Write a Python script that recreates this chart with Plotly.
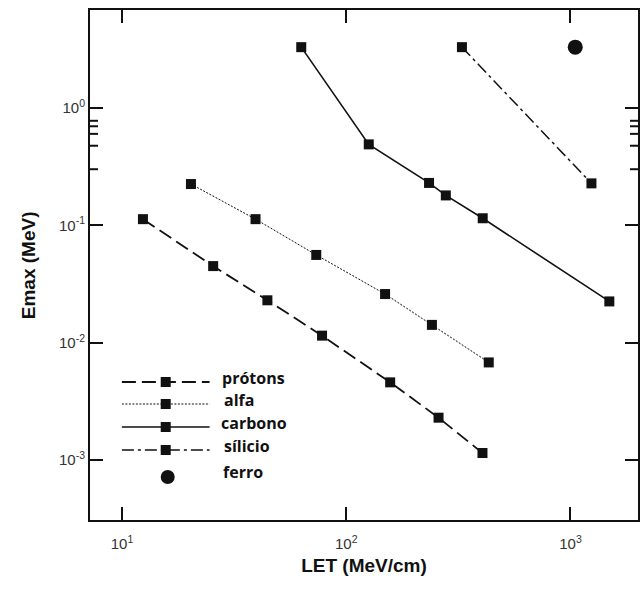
import plotly.graph_objects as go
import numpy as np

# ---- data ----
protons_let = [12.4, 25.5, 44.5, 78, 157, 258, 405]
protons_e = [0.113, 0.045, 0.023, 0.0115, 0.0046, 0.0023, 0.00115]
alfa_let = [20.3, 39.4, 73.5, 149, 241, 432]
alfa_e = [0.225, 0.113, 0.056, 0.026, 0.0142, 0.0068]
carbono_let = [63, 126, 234, 278, 406, 1490]
carbono_e = [3.3, 0.49, 0.23, 0.18, 0.115, 0.0225]
silicio_let = [328, 1240]
silicio_e = [3.3, 0.228]
ferro_let = [1050]
ferro_e = [3.3]

series_names = ["prótons", "alfa", "carbono", "sílicio", "ferro"]

x_ticks = [10, 100, 1000]
x_ticktext = ["10<sup>1</sup>", "10<sup>2</sup>", "10<sup>3</sup>"]
y_ticks = [0.001, 0.01, 0.1, 1]
y_ticktext = ["10<sup>-3</sup>", "10<sup>-2</sup>", "10<sup>-1</sup>", "10<sup>0</sup>"]

# ---- styles ----
BLACK = "#111111"
sq = dict(symbol="square", size=10, color=BLACK)
styles = [
    dict(dash="14px,6px", width=1.8),
    dict(dash="2px,1.5px", width=1),
    dict(dash="solid", width=1.6),
    dict(dash="12px,4px,3px,4px", width=1.5),
]

XMIN, XMAX = 7.2, 2000
YMIN, YMAX = 10 ** -3.51, 10 ** 0.835
XR = [np.log10(XMIN), np.log10(XMAX)]
YR = [np.log10(YMIN), np.log10(YMAX)]

fig = go.Figure()
data = [(protons_let, protons_e), (alfa_let, alfa_e), (carbono_let, carbono_e), (silicio_let, silicio_e)]
for (xv, yv), st, nm in zip(data, styles, series_names[:4]):
    fig.add_trace(go.Scatter(x=xv, y=yv, mode="lines+markers", name=nm,
                             line=dict(color=BLACK, **st), marker=sq, showlegend=False))
fig.add_trace(go.Scatter(x=ferro_let, y=ferro_e, mode="markers", name=series_names[4],
                         marker=dict(symbol="circle", size=15, color=BLACK), showlegend=False))

# ---- manual legend on an overlay pixel-like axis ----
leg_rows = [382, 404, 427, 450, 477]
for i, nm in enumerate(series_names):
    yy = leg_rows[i]
    if i < 4:
        fig.add_trace(go.Scatter(x=[122, 166, 210], y=[yy, yy, yy], xaxis="x2", yaxis="y2",
                                 mode="lines", line=dict(color=BLACK, **styles[i]),
                                 showlegend=False, hoverinfo="skip"))
        fig.add_trace(go.Scatter(x=[166], y=[yy], xaxis="x2", yaxis="y2", mode="markers",
                                 marker=sq, showlegend=False, hoverinfo="skip"))
    else:
        fig.add_trace(go.Scatter(x=[168], y=[yy], xaxis="x2", yaxis="y2", mode="markers",
                                 marker=dict(symbol="circle", size=14, color=BLACK),
                                 showlegend=False, hoverinfo="skip"))
label_y = [378, 400, 423, 446, 472]
label_x = [221, 223, 220, 223, 222]
for nm, ly, lx in zip(series_names, label_y, label_x):
    fig.add_annotation(x=lx, y=ly, xref="x2", yref="y2", text=f"<b>{nm}</b>", showarrow=False,
                       xanchor="left", yanchor="middle", borderpad=0,
                       font=dict(family="Open Sans, Liberation Sans, Arial", size=16, color=BLACK))

# y axis title (paper coordinates; plot area spans x 90..640 px)
fig.add_annotation(x=-(90 - 28) / 550, y=(520 - 265) / 510, xref="paper", yref="paper",
                   text="<b>Emax (MeV)</b>", showarrow=False, textangle=-90,
                   xanchor="center", yanchor="middle",
                   font=dict(family="Arial, Liberation Sans", size=19, color=BLACK))

# ---- minor ticks drawn as short pixel-length lines on all four sides ----
minor_x = [v * m for v in [1, 10, 100, 1000] for m in range(2, 10) if XMIN < v * m < XMAX]
minor_y = [v * m for v in [0.0001, 0.001, 0.01, 0.1, 1] for m in range(2, 10) if YMIN < v * m < YMAX]
tick_line = dict(color=BLACK, width=2)
MINLEN = 8
for v in minor_x:
    lv = np.log10(v)
    for anchor, y1 in [(0, MINLEN), (1, -MINLEN)]:
        fig.add_shape(type="line", xref="x", yref="paper", x0=lv, x1=lv,
                      ysizemode="pixel", yanchor=anchor, y0=0, y1=y1, line=tick_line)
for v in minor_y:
    lv = np.log10(v)
    for anchor, x1 in [(0, MINLEN), (1, -MINLEN)]:
        fig.add_shape(type="line", yref="y", xref="paper", y0=lv, y1=lv,
                      xsizemode="pixel", xanchor=anchor, x0=0, x1=x1, line=tick_line)

axis_common = dict(showgrid=False, zeroline=False, showline=True, linecolor=BLACK, linewidth=2,
                   mirror="allticks", ticks="inside", ticklen=13, tickwidth=2, tickcolor=BLACK,
                   tickmode="array",
                   tickfont=dict(family="Arial, Liberation Sans", size=15, color="#333333"))

fig.update_layout(
    width=643, height=591,
    margin=dict(l=90, r=3, t=10, b=71),
    plot_bgcolor="white", paper_bgcolor="white",
    xaxis=dict(type="log", range=XR, tickvals=x_ticks, ticktext=x_ticktext, ticklabelstandoff=9,
               title=dict(text="<b>LET (MeV/cm)</b>", standoff=8,
                          font=dict(family="Arial, Liberation Sans", size=19, color=BLACK)),
               **axis_common),
    yaxis=dict(type="log", range=YR, tickvals=y_ticks, ticktext=y_ticktext, **axis_common),
    xaxis2=dict(overlaying="x", range=[90, 640], visible=False, fixedrange=True),
    yaxis2=dict(overlaying="y", range=[520, 10], visible=False, fixedrange=True),
)

fig.write_html("out.html")
